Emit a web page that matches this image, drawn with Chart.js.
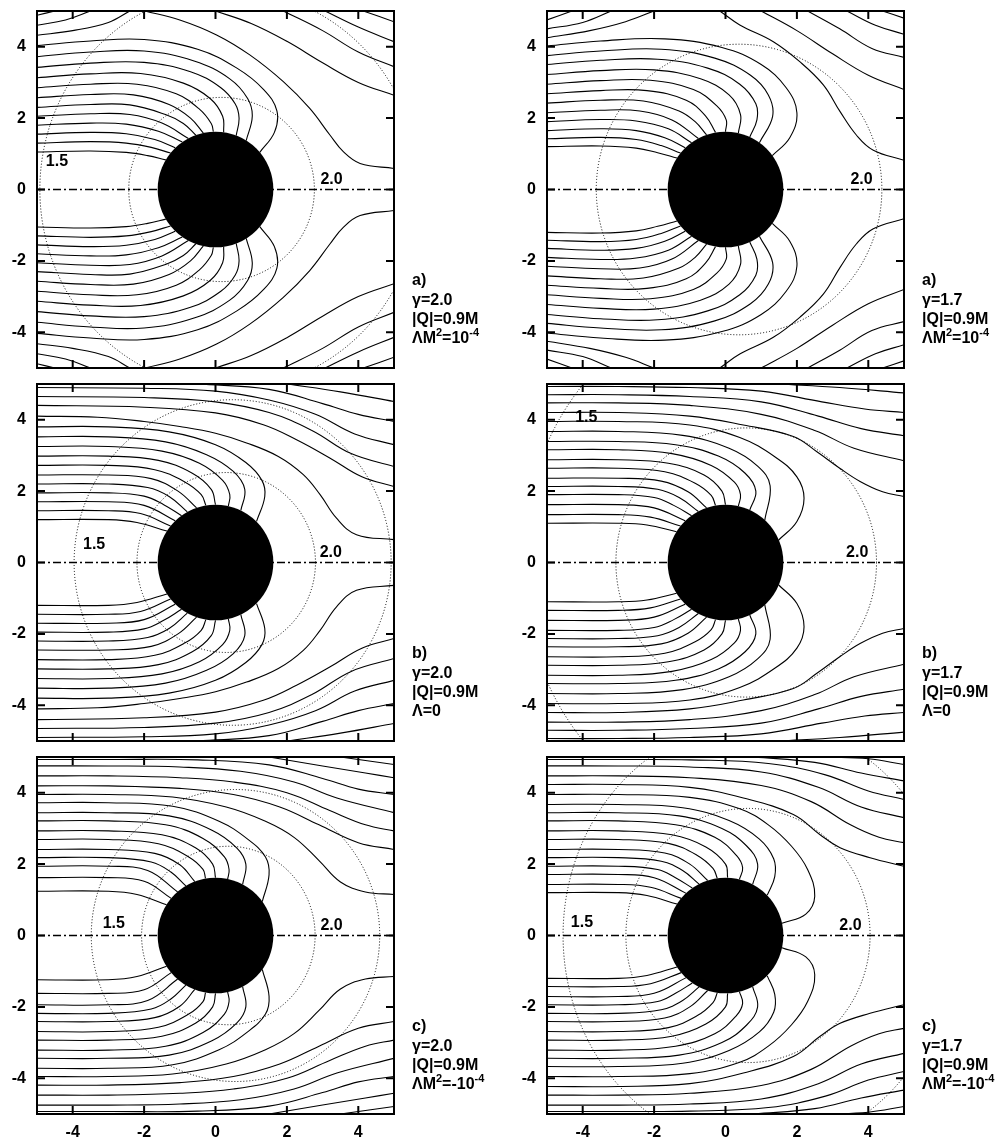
<!DOCTYPE html>
<html>
<head>
<meta charset="utf-8">
<script src="https://cdn.jsdelivr.net/npm/chart.js@4.4.0/dist/chart.umd.min.js"></script>
<style>
  body { margin: 0; background: #fff; width: 1008px; height: 1140px; position: relative; overflow: hidden; }
  canvas { position: absolute; }
</style>
</head>
<body>
<script>
// tick values shared by all six panels
const xTicks = [-4, -2, 0, 2, 4];
const yTicks = [-4, -2, 0, 2, 4];
const holeRadius = 1.62;

// field lines, upper half only, as x,y pairs.
// every panel is mirror-symmetric about y = 0, the lower half reuses these with y negated
const linesTL = [
    [-5,1.05, -3.5,1.08, -2.5,1.04, -1.9,0.95, -1.39,0.83],
    [-5,1.30, -3.5,1.34, -2.5,1.30, -1.8,1.18, -1.26,1.02],
    [-5,1.55, -3.5,1.60, -2.5,1.56, -1.7,1.40, -1.13,1.17],
    [-5,1.80, -3.5,1.86, -2.5,1.83, -1.6,1.63, -0.93,1.33],
    [-5,2.05, -3.5,2.12, -2.4,2.10, -1.5,1.86, -0.76,1.43],
    [-5,2.30, -3.5,2.38, -2.4,2.37, -1.4,2.10, -0.90,1.85, -0.55,1.52],
    [-5,2.57, -3.5,2.66, -2.3,2.65, -1.3,2.38, -0.70,2.00, -0.34,1.58],
    [-5,2.85, -3.5,2.95, -2.2,2.95, -1.1,2.68, -0.45,2.25, -0.12,1.85, -0.06,1.62],
    [-5,3.13, -3.5,3.24, -2.1,3.25, -0.9,2.98, -0.15,2.55, 0.20,2.05, 0.23,1.60],
    [-5,3.42, -3.5,3.54, -2.0,3.56, -0.7,3.30, 0.15,2.85, 0.55,2.40, 0.66,2.00, 0.58,1.51],
    [-5,3.72, -3.5,3.85, -2.0,3.88, -0.6,3.60, 0.40,3.10, 0.90,2.55, 1.03,2.05, 0.86,1.37],
    [-5,4.03, -3.5,4.16, -2.0,4.20, -0.5,3.93, 0.60,3.40, 1.35,2.80, 1.72,2.20, 1.65,1.60, 1.24,1.04],
    [-5,4.32, -4.0,4.45, -3.0,4.68, -2.4,5],
    [-5,4.60, -4.2,4.75, -3.5,5],
    [-5,4.88, -4.5,5],
    [-1.98,5, -1.0,4.75, 0.03,4.33, 0.96,3.77, 1.9,3.02, 2.64,2.27, 3.21,1.52, 3.58,1.06, 4.05,0.73, 5,0.59],
    [0.0,5, 1.0,4.65, 2.0,4.15, 3.0,3.55, 4.0,3.00, 5,2.64],
    [1.9,5, 3.0,4.45, 4.0,3.85, 5,3.44],
    [3.07,5, 4.0,4.55, 5,4.14],
    [4.14,5, 5,4.70]
];
const linesTR = [
    [-5,1.20, -3.5,1.22, -2.5,1.16, -1.9,1.03, -1.36,0.88],
    [-5,1.42, -3.5,1.46, -2.5,1.40, -1.8,1.23, -1.26,1.02],
    [-5,1.65, -3.5,1.70, -2.5,1.65, -1.7,1.45, -1.13,1.17],
    [-5,1.90, -3.5,1.96, -2.5,1.92, -1.6,1.70, -0.95,1.31],
    [-5,2.15, -3.5,2.22, -2.4,2.20, -1.5,1.95, -0.76,1.43],
    [-5,2.42, -3.5,2.50, -2.3,2.48, -1.3,2.20, -0.85,1.90, -0.53,1.53],
    [-5,2.68, -3.5,2.77, -2.2,2.77, -1.1,2.50, -0.55,2.05, -0.28,1.60],
    [-5,2.95, -3.5,3.05, -2.1,3.06, -0.9,2.80, -0.25,2.35, 0.02,1.95, 0,1.62],
    [-5,3.22, -3.5,3.33, -2.0,3.35, -0.7,3.10, 0.10,2.65, 0.42,2.10, 0.36,1.58],
    [-5,3.50, -3.5,3.62, -1.9,3.65, -0.5,3.40, 0.40,2.95, 0.85,2.40, 0.88,1.95, 0.68,1.47],
    [-5,3.75, -3.5,3.88, -1.8,3.93, -0.3,3.68, 0.70,3.20, 1.20,2.65, 1.32,2.05, 0.95,1.31],
    [-5,4.02, -3.5,4.16, -1.7,4.22, -0.1,3.98, 1.00,3.50, 1.70,2.85, 2.00,2.15, 1.80,1.45, 1.31,0.95],
    [-5,4.25, -3.8,4.45, -2.8,4.70, -2.0,5],
    [-5,4.50, -4.0,4.68, -3.2,5],
    [-5,4.75, -4.3,5],
    [-0.16,5, 0.40,4.61, 1.34,4.14, 2.08,3.58, 2.74,2.93, 3.21,2.18, 3.67,1.52, 4.14,1.10, 5,0.82],
    [1.0,5, 2.0,4.45, 3.0,3.80, 4.0,3.20, 5,2.80],
    [2.3,5, 3.2,4.50, 4.1,3.95, 5,3.70],
    [3.4,5, 4.2,4.60, 5,4.35],
    [4.4,5, 5,4.80]
];
const linesML = [
    [-5,1.20, -3,1.20, -2.2,1.12, -1.36,0.88],
    [-5,1.45, -3,1.45, -2.1,1.37, -1.26,1.02],
    [-5,1.70, -3,1.70, -2.0,1.60, -1.13,1.17],
    [-5,1.95, -3,1.95, -2.0,1.86, -1.45,1.62, -0.95,1.31],
    [-5,2.20, -3,2.20, -1.9,2.10, -1.30,1.85, -0.79,1.42],
    [-5,2.45, -3,2.45, -1.8,2.35, -1.05,2.00, -0.53,1.53],
    [-5,2.72, -3,2.72, -1.7,2.60, -0.85,2.25, -0.40,1.90, -0.27,1.60],
    [-5,2.98, -3,2.98, -1.6,2.86, -0.65,2.50, -0.12,2.05, 0,1.62],
    [-5,3.25, -3,3.25, -1.5,3.12, -0.45,2.78, 0.20,2.30, 0.40,1.90, 0.36,1.58],
    [-5,3.52, -3,3.52, -1.4,3.38, -0.25,3.02, 0.50,2.55, 0.82,2.05, 0.71,1.46],
    [-5,3.80, -3,3.80, -1.3,3.66, 0,3.30, 0.85,2.80, 1.30,2.30, 1.38,1.85, 1.15,1.15],
    [-5,4.10, -3.3,4.07, -2,3.95, -1,3.81, 0,3.62, 0.87,3.35, 1.76,2.97, 2.46,2.46, 2.93,1.90, 3.39,1.24, 3.95,0.78, 5,0.64],
    [-5,4.40, -2,4.35, 0,4.19, 1.34,3.86, 2.27,3.44, 3.2,2.93, 4.1,2.40, 5,2.13],
    [-5,4.65, -2,4.62, 0,4.50, 1.5,4.20, 2.7,3.70, 3.8,3.05, 5,2.69],
    [-5,4.90, -2,4.88, 0,4.80, 1.5,4.55, 2.8,4.15, 3.9,3.60, 5,3.30],
    [-0.5,5, 1.5,4.85, 3.0,4.45, 4.0,4.15, 5,3.95],
    [2.0,5, 3.5,4.78, 5,4.51]
];
const linesMR = [
    [-5,1.10, -3,1.10, -2.2,1.05, -1.37,0.86],
    [-5,1.34, -3,1.34, -2.1,1.27, -1.26,1.02],
    [-5,1.62, -3,1.62, -2.0,1.53, -1.13,1.17],
    [-5,1.90, -3,1.90, -2.0,1.82, -1.45,1.60, -0.95,1.31],
    [-5,2.13, -3,2.13, -1.9,2.05, -1.30,1.82, -0.76,1.43],
    [-5,2.36, -3,2.36, -1.8,2.28, -1.05,1.98, -0.53,1.53],
    [-5,2.64, -3,2.64, -1.7,2.54, -0.85,2.22, -0.40,1.88, -0.28,1.60],
    [-5,2.88, -3,2.88, -1.6,2.78, -0.60,2.45, -0.10,2.00, 0,1.62],
    [-5,3.16, -3,3.16, -1.5,3.05, -0.40,2.72, 0.25,2.25, 0.42,1.90, 0.36,1.58],
    [-5,3.39, -3,3.39, -1.4,3.30, -0.20,2.98, 0.55,2.50, 0.85,2.00, 0.68,1.47],
    [-5,3.67, -3,3.67, -1.2,3.56, 0.10,3.20, 0.90,2.70, 1.25,2.15, 1.10,1.18],
    [-5,3.95, -3,3.95, -1.0,3.85, 0.40,3.50, 1.40,2.95, 2.00,2.40, 2.20,1.80, 2.00,1.15, 1.49,0.63],
    [-5,4.20, -3,4.20, -1.0,4.10, 0.5,3.85, 1.9,3.53, 2.55,3.11, 3.2,2.64, 3.77,2.27, 4.4,1.98, 5,1.85],
    [-5,4.47, -3,4.47, -1.0,4.40, 1.0,4.15, 2.5,3.70, 3.6,3.20, 5,2.85],
    [-5,4.70, -3,4.70, -1.0,4.65, 1.0,4.50, 2.6,4.10, 3.8,3.75, 5,3.55],
    [-5,4.93, -3,4.93, -1.0,4.90, 1.0,4.80, 2.7,4.50, 3.9,4.30, 5,4.20],
    [1.5,5, 3.2,4.90, 5,4.75]
];
const linesBL = [
    [-5,1.24, -3,1.24, -2.2,1.15, -1.37,0.86],
    [-5,1.62, -3,1.62, -2.0,1.52, -1.24,1.04],
    [-5,1.94, -3,1.94, -1.9,1.82, -1.06,1.22],
    [-5,2.18, -3,2.18, -1.8,2.06, -1.25,1.78, -0.83,1.39],
    [-5,2.41, -3,2.41, -1.7,2.30, -1.00,1.98, -0.58,1.51],
    [-5,2.69, -3,2.69, -1.6,2.57, -0.75,2.20, -0.35,1.85, -0.28,1.60],
    [-5,2.93, -3,2.93, -1.5,2.82, -0.55,2.45, -0.08,2.00, 0,1.62],
    [-5,3.21, -3,3.21, -1.4,3.10, -0.35,2.72, 0.25,2.20, 0.38,1.85, 0.34,1.58],
    [-5,3.44, -3,3.44, -1.3,3.35, -0.10,2.95, 0.60,2.45, 0.85,2.00, 0.76,1.43],
    [-5,3.72, -3,3.72, -1.2,3.62, 0.10,3.20, 0.90,2.70, 1.40,2.20, 1.50,1.70, 1.31,0.95],
    [-5,3.95, -3,3.95, -1.2,3.88, 0.3,3.60, 1.4,3.20, 2.2,2.75, 2.9,2.10, 3.5,1.50, 4.2,1.22, 5,1.15],
    [-5,4.19, -3,4.19, -1.0,4.12, 0.5,3.95, 1.8,3.60, 2.9,3.10, 4.0,2.60, 5,2.41],
    [-5,4.47, -3,4.47, -1.0,4.42, 0.5,4.30, 2.0,4.00, 3.2,3.50, 4.2,3.10, 5,2.93],
    [-5,4.75, -3,4.75, -1.0,4.72, 0.7,4.60, 2.2,4.30, 3.4,3.85, 5,3.44],
    [-5,4.93, -3,4.93, -0.5,4.92, 1.5,4.78, 3.0,4.40, 4.0,4.10, 5,3.95],
    [1.5,5, 3.0,4.75, 4.2,4.55, 5,4.42],
    [3.5,5, 5,4.79]
];
const linesBR = [
    [-5,1.20, -3,1.20, -2.2,1.12, -1.36,0.88],
    [-5,1.43, -3,1.43, -2.1,1.35, -1.24,1.04],
    [-5,1.71, -3,1.71, -2.0,1.62, -1.10,1.18],
    [-5,1.94, -3,1.94, -1.9,1.85, -1.40,1.62, -0.93,1.33],
    [-5,2.18, -3,2.18, -1.8,2.08, -1.20,1.82, -0.74,1.44],
    [-5,2.41, -3,2.41, -1.7,2.31, -1.00,2.00, -0.50,1.54],
    [-5,2.69, -3,2.69, -1.6,2.58, -0.80,2.25, -0.35,1.88, -0.23,1.60],
    [-5,2.93, -3,2.93, -1.5,2.82, -0.55,2.48, 0,2.00, 0.06,1.62],
    [-5,3.21, -3,3.21, -1.4,3.10, -0.30,2.75, 0.30,2.25, 0.48,1.90, 0.39,1.57],
    [-5,3.44, -3,3.44, -1.3,3.35, -0.10,3.00, 0.60,2.50, 0.90,2.00, 0.76,1.43],
    [-5,3.67, -3,3.67, -1.2,3.58, 0.10,3.22, 0.95,2.70, 1.35,2.15, 1.38,1.65, 1.17,1.13],
    [-5,3.95, -3,3.95, -1.0,3.87, 0.40,3.55, 1.20,3.10, 1.85,2.50, 2.30,1.85, 2.50,1.10, 2.25,0.60, 1.58,0.34],
    [-5,4.23, -3,4.23, -1.0,4.15, 0.5,3.85, 1.9,3.39, 2.64,2.83, 3.21,2.46, 4.05,2.18, 5,1.94],
    [-5,4.47, -3,4.47, -1.0,4.42, 1.0,4.20, 2.4,3.75, 3.5,3.10, 4.3,2.75, 5,2.60],
    [-5,4.75, -3,4.75, -1.0,4.72, 1.0,4.58, 2.6,4.15, 3.8,3.60, 5,3.30],
    [-5,4.93, -3,4.93, -1.0,4.92, 1.2,4.82, 2.8,4.50, 4.0,4.05, 5,3.81],
    [0.8,5, 2.5,4.85, 3.8,4.55, 5,4.33],
    [2.8,5, 4.0,4.95, 5,4.79]
];

// dotted contours: [centre x, half width, half height]
const contoursTL = [[0.17, 2.6, 2.58], [0.4, 5.32, 5.58]];
const contoursTR = [[0.38, 4.0, 4.07]];
const contoursML = [[0.3, 2.5, 2.52], [0.48, 4.44, 4.56]];
const contoursMR = [[0.58, 3.65, 3.77], [0.9, 6.6, 7.43]];
const contoursBL = [[0.36, 2.43, 2.5], [0.56, 4.04, 4.09]];
const contoursBR = [[0.63, 3.42, 3.56], [0.9, 5.45, 6.0]];

// contour labels: [text, x, y]
const labelsTL = [['1.5', -4.44, 0.78], ['2.0', 3.25, 0.29]];
const labelsTR = [['2.0', 3.81, 0.29]];
const labelsML = [['1.5', -3.4, 0.5], ['2.0', 3.23, 0.29]];
const labelsMR = [['1.5', -3.9, 4.07], ['2.0', 3.69, 0.29]];
const labelsBL = [['1.5', -2.85, 0.34], ['2.0', 3.25, 0.29]];
const labelsBR = [['1.5', -4.02, 0.36], ['2.0', 3.5, 0.29]];

// panel notes, {..} marks a superscript
const notesTL = ['a)', 'γ=2.0', '|Q|=0.9M', 'ΛM{2}=10{-4}'];
const notesTR = ['a)', 'γ=1.7', '|Q|=0.9M', 'ΛM{2}=10{-4}'];
const notesML = ['b)', 'γ=2.0', '|Q|=0.9M', 'Λ=0'];
const notesMR = ['b)', 'γ=1.7', '|Q|=0.9M', 'Λ=0'];
const notesBL = ['c)', 'γ=2.0', '|Q|=0.9M', 'ΛM{2}=-10{-4}'];
const notesBR = ['c)', 'γ=1.7', '|Q|=0.9M', 'ΛM{2}=-10{-4}'];

const panels = [
    { row: 0, col: 0, lines: linesTL, contours: contoursTL, labels: labelsTL, notes: notesTL },
    { row: 0, col: 1, lines: linesTR, contours: contoursTR, labels: labelsTR, notes: notesTR },
    { row: 1, col: 0, lines: linesML, contours: contoursML, labels: labelsML, notes: notesML },
    { row: 1, col: 1, lines: linesMR, contours: contoursMR, labels: labelsMR, notes: notesMR },
    { row: 2, col: 0, lines: linesBL, contours: contoursBL, labels: labelsBL, notes: notesBL },
    { row: 2, col: 1, lines: linesBR, contours: contoursBR, labels: labelsBR, notes: notesBR }
];

// layout
const cols = [
    { left: 0, width: 505, plotLeft: 37, plotRight: 394 },
    { left: 505, width: 503, plotLeft: 547, plotRight: 904 }
];
const rowTops = [11, 384, 757];
const plotHeight = 357;
const padTop = 6;
const xAxisHeight = 30;
const FONT = '"Liberation Sans", Arial, sans-serif';

function toPoints(flat, sign) {
    const pts = [];
    for (let i = 0; i < flat.length; i += 2) pts.push({ x: flat[i], y: sign * flat[i + 1] });
    return pts;
}

function drawNote(ctx, str, x, y) {
    const parts = str.split(/(\{[^}]*\})/).filter(s => s.length);
    let cx = x;
    parts.forEach(s => {
        const sup = s[0] === '{';
        const t = sup ? s.slice(1, -1) : s;
        ctx.font = (sup ? 'bold 11px ' : 'bold 16px ') + FONT;
        ctx.fillText(t, cx, sup ? y - 7 : y);
        cx += ctx.measureText(t).width;
    });
}

// no label overflow padding, the plot area must sit exactly where the layout says
function noScalePadding(s) {
    s.paddingTop = 0;
    s.paddingBottom = 0;
    s.paddingLeft = 0;
    s.paddingRight = 0;
}

function decor(p) {
    return {
        id: 'decor',
        beforeDatasetsDraw(chart) {
            const { ctx, chartArea: a, scales: { x, y } } = chart;
            ctx.save();
            ctx.beginPath();
            ctx.rect(a.left, a.top, a.width, a.height);
            ctx.clip();
            ctx.setLineDash([1, 2]);
            ctx.lineWidth = 1;
            ctx.strokeStyle = '#000';
            p.contours.forEach(([cx, rx, ry]) => {
                const px = x.getPixelForValue(cx);
                const py = y.getPixelForValue(0);
                const rxp = x.getPixelForValue(cx + rx) - px;
                const ryp = py - y.getPixelForValue(ry);
                ctx.beginPath();
                ctx.ellipse(px, py, rxp, ryp, 0, 0, Math.PI * 2);
                ctx.stroke();
            });
            ctx.restore();
        },
        afterDatasetsDraw(chart) {
            const { ctx, chartArea: a, scales: { x, y } } = chart;
            ctx.save();
            // black hole
            const hx = x.getPixelForValue(0), hy = y.getPixelForValue(0);
            ctx.fillStyle = '#000';
            ctx.beginPath();
            ctx.ellipse(hx, hy, x.getPixelForValue(holeRadius) - hx, hy - y.getPixelForValue(holeRadius), 0, 0, Math.PI * 2);
            ctx.fill();
            // contour labels
            ctx.font = 'bold 16px ' + FONT;
            ctx.textAlign = 'center';
            ctx.textBaseline = 'middle';
            p.labels.forEach(([t, lx, ly]) => ctx.fillText(t, x.getPixelForValue(lx), y.getPixelForValue(ly)));
            // frame and inward ticks
            ctx.strokeStyle = '#000';
            ctx.lineWidth = 2;
            ctx.strokeRect(a.left, a.top, a.width, a.height);
            ctx.beginPath();
            xTicks.forEach(v => {
                const px = x.getPixelForValue(v);
                ctx.moveTo(px, a.bottom); ctx.lineTo(px, a.bottom - 8);
                ctx.moveTo(px, a.top); ctx.lineTo(px, a.top + 8);
            });
            yTicks.forEach(v => {
                const py = y.getPixelForValue(v);
                ctx.moveTo(a.left, py); ctx.lineTo(a.left + 8, py);
                ctx.moveTo(a.right, py); ctx.lineTo(a.right - 8, py);
            });
            ctx.stroke();
            // notes beside the panel
            ctx.textAlign = 'left';
            ctx.textBaseline = 'alphabetic';
            const offs = [-83, -63, -44, -25];
            p.notes.forEach((s, i) => drawNote(ctx, s, a.right + 18, a.bottom + offs[i]));
            ctx.restore();
        }
    };
}

panels.forEach(p => {
    const g = cols[p.col];
    const canvas = document.createElement('canvas');
    canvas.width = g.width;
    canvas.height = padTop + plotHeight + xAxisHeight;
    canvas.style.left = g.left + 'px';
    canvas.style.top = (rowTops[p.row] - padTop) + 'px';
    document.body.appendChild(canvas);

    const datasets = [];
    p.lines.forEach(l => {
        [1, -1].forEach(sign => datasets.push({
            data: toPoints(l, sign),
            showLine: true,
            borderColor: '#000',
            borderWidth: 1.1,
            pointRadius: 0,
            tension: 0.4,
            fill: false
        }));
    });
    datasets.push({
        data: [{ x: -5, y: 0 }, { x: 5, y: 0 }],
        showLine: true,
        borderColor: '#000',
        borderWidth: 1.5,
        borderDash: [8, 3, 2, 3],
        pointRadius: 0,
        fill: false
    });

    const tickFont = { family: FONT, size: 16, weight: 'bold' };
    new Chart(canvas, {
        type: 'scatter',
        data: { datasets },
        options: {
            responsive: false,
            animation: false,
            events: [],
            layout: {
                autoPadding: false,
                padding: { top: padTop, left: 0, bottom: 0, right: g.left + g.width - g.plotRight }
            },
            plugins: { legend: { display: false }, tooltip: { enabled: false } },
            scales: {
                x: {
                    type: 'linear', min: -5, max: 5,
                    afterBuildTicks: s => { s.ticks = xTicks.map(v => ({ value: v })); },
                    afterFit: s => { s.height = xAxisHeight; noScalePadding(s); },
                    grid: { display: false, drawTicks: false },
                    border: { display: false },
                    ticks: { display: p.row === 2, padding: 9, maxRotation: 0, autoSkip: false, color: '#000', font: tickFont }
                },
                y: {
                    type: 'linear', min: -5, max: 5,
                    afterBuildTicks: s => { s.ticks = yTicks.map(v => ({ value: v })); },
                    afterFit: s => { s.width = g.plotLeft - g.left; noScalePadding(s); },
                    grid: { display: false, drawTicks: false },
                    border: { display: false },
                    ticks: { padding: 11, autoSkip: false, color: '#000', font: tickFont }
                }
            }
        },
        plugins: [decor(p)]
    });
});
</script>
</body>
</html>
